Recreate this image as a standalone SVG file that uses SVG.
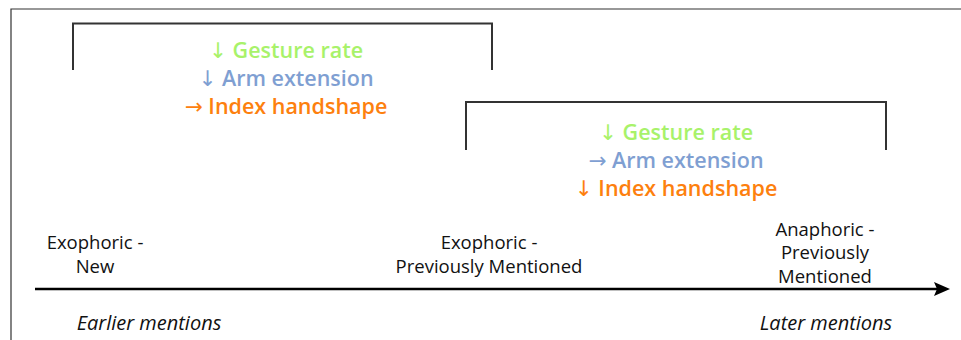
<svg xmlns="http://www.w3.org/2000/svg" width="961" height="340" viewBox="0 0 961 340">
<defs>
<style>
.frame{fill:none;stroke:#333;stroke-width:1.2}
.br{fill:none;stroke:#333;stroke-width:2}
.ax{fill:none;stroke:#000;stroke-width:2.5}
.t{font-family:"Open Sans","Noto Sans",sans-serif;text-anchor:middle}
.big{font-size:21.5px;font-weight:600}
.arr{font-family:"DejaVu Sans",sans-serif;font-weight:normal}
.lab{font-size:18.5px;fill:#111}
.it{font-size:20px;font-style:italic;fill:#111}
.g{fill:#a8f26a}
.b{fill:#7f9fd2}
.o{fill:#fd800e}
</style>
</defs>
<path class="frame" d="M11,340 V9 H961"/>
<g id="connectors">
<line class="ax" x1="35" y1="289" x2="940" y2="289"/>
<path d="M934,282 L950,289 L934,296 L937,289 Z" fill="#000"/>
</g>
<g id="bracket1">
<path class="br" d="M73,70 V23.5 H492 V70"/>
<text class="t big g" x="286" y="58"><tspan class="arr">↓</tspan> Gesture rate</text>
<text class="t big b" x="286" y="86"><tspan class="arr">↓</tspan> Arm extension</text>
<text class="t big o" x="286" y="114"><tspan class="arr">→</tspan> Index handshape</text>
</g>
<g id="bracket2">
<path class="br" d="M466,150 V102 H886 V150"/>
<text class="t big g" x="676" y="140"><tspan class="arr">↓</tspan> Gesture rate</text>
<text class="t big b" x="676" y="168"><tspan class="arr">→</tspan> Arm extension</text>
<text class="t big o" x="676" y="196"><tspan class="arr">↓</tspan> Index handshape</text>
</g>
<g id="exophoric-new">
<text class="t lab" x="95" y="249">Exophoric -</text>
<text class="t lab" x="95" y="272.5">New</text>
</g>
<g id="exophoric-prev">
<text class="t lab" x="489" y="249">Exophoric -</text>
<text class="t lab" x="489" y="272.5">Previously Mentioned</text>
</g>
<g id="anaphoric-prev">
<text class="t lab" x="825" y="235.5">Anaphoric -</text>
<text class="t lab" x="825" y="259">Previously</text>
<text class="t lab" x="825" y="282.5">Mentioned</text>
</g>
<g id="earlier">
<text class="t it" x="149" y="330">Earlier mentions</text>
</g>
<g id="later">
<text class="t it" x="826" y="330">Later mentions</text>
</g>
</svg>
